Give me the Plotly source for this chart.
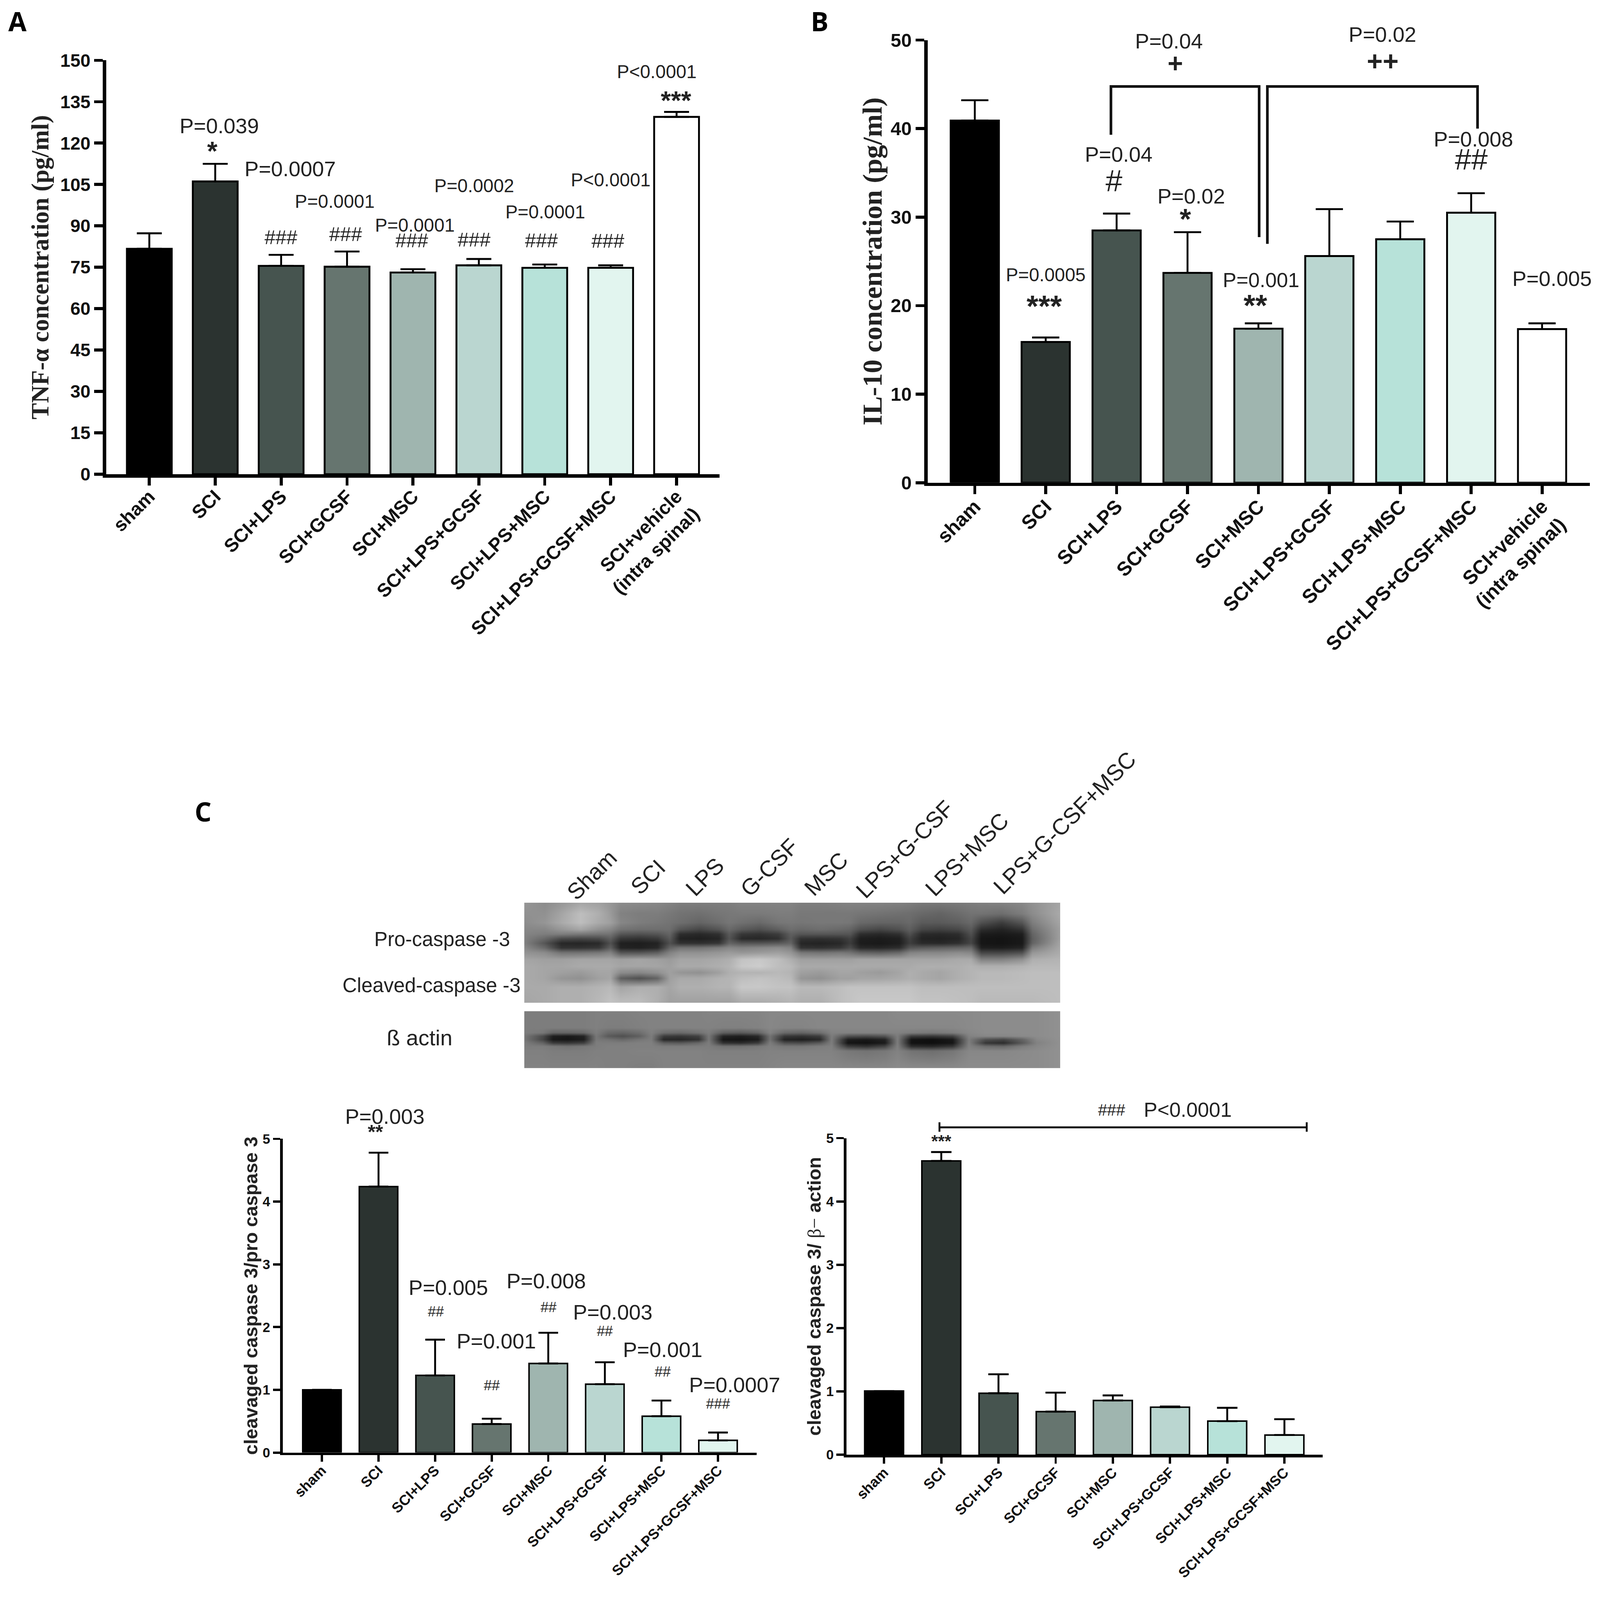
import plotly.graph_objects as go

W, H = 4233, 4191

# ---------- data ----------
groups_9 = ["sham", "SCI", "SCI+LPS", "SCI+GCSF", "SCI+MSC", "SCI+LPS+GCSF", "SCI+LPS+MSC",
            "SCI+LPS+GCSF+MSC", "SCI+vehicle<br>(intra spinal)"]
groups_8 = groups_9[:8]
bar_colors = ["#000000", "#2b3330", "#46544f", "#66756f", "#9fb5af", "#bad6d0", "#b7e2d9", "#e2f5ef", "#ffffff"]

tnf_values = [81.7, 106.1, 75.5, 75.2, 73.1, 75.7, 74.8, 74.8, 129.5]
tnf_errors = [5.6, 6.4, 4.0, 5.5, 1.2, 2.3, 1.2, 0.9, 1.8]
il10_values = [40.9, 15.9, 28.5, 23.7, 17.4, 25.6, 27.5, 30.5, 17.35]
il10_errors = [2.3, 0.5, 1.9, 4.6, 0.6, 5.3, 2.0, 2.2, 0.65]
ratio_pro_values = [1.0, 4.24, 1.23, 0.455, 1.42, 1.09, 0.58, 0.195]
ratio_pro_errors = [0.0, 0.54, 0.57, 0.085, 0.49, 0.35, 0.25, 0.125]
ratio_actin_values = [1.005, 4.64, 0.97, 0.68, 0.856, 0.75, 0.53, 0.31]
ratio_actin_errors = [0.0, 0.14, 0.30, 0.30, 0.08, 0.01, 0.21, 0.25]

# blot grey levels (0 black, 255 white)
blot1_x = [80, 130, 170, 217, 262, 290, 315, 360, 405, 435, 460, 508, 555, 580, 610, 655, 700, 730,
           755, 803, 850, 875, 900, 948, 995, 1020, 1050, 1095, 1140, 1170, 1195, 1245, 1295, 1320, 1388]
blot1_y = [723, 770, 810, 840, 860, 880, 900, 920, 940, 970, 1000, 1028, 1052, 1090, 1160]
blot1_z = [
    [150,140, 150,165,160, 150, 140,138,135, 130, 125,125,125, 125, 130,130,130, 130, 125,125,128, 130, 130,130,128, 125, 120,120,122, 125, 128,130,135, 145,165],
    [145,145, 165,190,175, 155, 130,125,125, 120, 115,112,118, 120, 122,122,125, 125, 120,120,120, 120, 118,115,112, 110, 105,100,108, 115, 115,110,125, 140,170],
    [140,150, 170,190,170, 160, 135,125,120, 115, 110,100,110, 118, 112,105,118, 120, 118,120,120, 118, 105,100,100, 105, 90,90,95, 105, 80,60,85, 125,165],
    [135,135, 150,165,145, 135, 115,110,110, 110, 85,70,85, 105, 90,80,95, 110, 105,110,105, 100, 80,70,80, 95, 70,65,72, 90, 45,35,50, 110,160],
    [132,125, 125,120,115, 115, 85,80,85, 100, 45,40,48, 90, 55,50,60, 95, 85,85,85, 85, 45,40,48, 80, 42,40,45, 80, 28,25,30, 100,160],
    [130,105, 75,70,75, 95, 55,50,58, 90, 35,32,38, 85, 42,40,48, 90, 50,48,52, 65, 30,28,32, 65, 35,33,38, 70, 22,20,25, 95,160],
    [130,85, 40,38,42, 80, 32,30,35, 80, 50,48,55, 100, 85,85,90, 100, 38,35,40, 60, 28,25,30, 62, 42,40,48, 70, 22,20,25, 100,165],
    [138,105, 50,50,55, 95, 35,32,40, 100, 115,115,125, 135, 130,135,140, 130, 50,48,55, 75, 40,38,45, 85, 90,95,100, 105, 30,28,35, 125,168],
    [148,140, 115,115,120, 130, 85,85,95, 130, 145,145,150, 155, 150,155,160, 150, 120,115,120, 115, 100,95,105, 130, 135,135,140, 135, 70,70,80, 150,172],
    [165,160, 160,165,165, 165, 160,165,160, 155, 165,165,170, 175, 195,200,190, 175, 160,160,160, 160, 165,165,165, 165, 165,165,170, 170, 130,130,145, 175,180],
    [170,165, 165,170,170, 170, 165,165,165, 160, 170,170,175, 180, 200,205,190, 185, 170,170,170, 170, 170,170,170, 170, 175,175,175, 180, 175,175,180, 185,185],
    [170,165, 160,155,165, 165, 140,135,145, 160, 150,145,160, 175, 180,180,185, 180, 160,155,165, 165, 160,155,165, 175, 170,165,175, 180, 185,185,188, 190,190],
    [170,165, 150,145,160, 165, 95,80,100, 160, 170,170,178, 180, 190,195,190, 185, 150,145,160, 160, 165,165,170, 175, 170,165,175, 180, 185,185,188, 190,190],
    [170,170, 175,175,180, 185, 165,175,175, 165, 175,175,180, 180, 200,200,195, 195, 185,185,190, 195, 195,195,195, 195, 190,190,190, 190, 190,190,190, 190,190],
    [165,170, 175,175,185, 195, 190,190,175, 160, 160,160,160, 160, 170,170,175, 180, 175,175,190, 195, 200,200,200, 200, 195,195,192, 190, 185,185,185, 185,190],
]
blot2_x = [80, 125, 150, 185, 225, 255, 285, 320, 360, 390, 420, 462, 505, 530, 565, 608, 650, 680,
           715, 757, 800, 830, 870, 915, 960, 990, 1025, 1075, 1125, 1165, 1205, 1250, 1295, 1330, 1388]
blot2_y = [1197, 1270, 1290, 1305, 1320, 1335, 1350, 1370, 1445]
blot2_z = [
    [125,125, 125,125,125, 128, 128,128,130, 130, 130,130,130, 132, 132,132,132, 135, 135,135,135, 135, 135,135,135, 138, 138,138,138, 138, 140,140,140, 140,145],
    [125,125, 125,125,125, 128, 125,125,128, 130, 130,130,130, 130, 128,128,130, 135, 132,132,135, 135, 135,135,135, 135, 135,135,135, 138, 140,140,140, 140,145],
    [125,120, 100,100,105, 125, 105,100,110, 128, 110,105,115, 125, 95,90,100, 130, 105,100,110, 130, 130,130,130, 130, 125,120,125, 135, 140,140,140, 140,145],
    [120,75, 30,25,35, 120, 90,80,95, 125, 60,55,65, 120, 35,30,40, 115, 55,50,60, 125, 80,75,85, 125, 60,55,65, 130, 135,135,138, 140,145],
    [120,70, 25,22,30, 120, 115,105,118, 125, 40,38,50, 120, 22,20,28, 115, 35,30,40, 125, 30,25,35, 125, 20,15,25, 125, 80,70,100, 135,145],
    [125,100, 60,55,65, 125, 125,125,128, 128, 95,90,105, 125, 50,45,60, 125, 80,75,90, 125, 22,18,28, 125, 18,15,22, 128, 55,45,90, 130,145],
    [125,125, 120,115,120, 125, 128,128,128, 128, 125,125,125, 125, 115,115,120, 128, 120,120,125, 128, 60,50,70, 128, 45,40,55, 130, 110,105,125, 135,145],
    [128,128, 125,125,125, 128, 128,128,130, 130, 130,130,130, 128, 128,128,128, 130, 130,130,130, 130, 120,115,120, 130, 115,110,118, 135, 135,135,138, 140,145],
    [130,130, 130,130,130, 130, 128,128,125, 125, 130,130,130, 130, 130,130,130, 132, 135,135,135, 135, 135,135,135, 138, 138,138,138, 140, 140,140,140, 140,145],
]

# ---------- helpers ----------
SANS = "Liberation Sans"
SERIF = "Liberation Serif"


def xdom(a, b):
    return [a / W, b / W]


def ydom(bottom, top):
    return [1 - bottom / H, 1 - top / H]


fig = go.Figure()
annotations, shapes = [], []
panel_y = {}


def add_panel(idx, cats, vals, errs, xr, xd, yd, ymax, dtick, cap, lw, axw, tlx, tly,
              tickfont, xtickfont, title, titlefont, standoff, xstand):
    sfx = "" if idx == 1 else str(idx)
    panel_y[sfx] = (yd, ymax)
    fig.add_trace(go.Bar(
        x=cats, y=vals, xaxis="x" + sfx, yaxis="y" + sfx, width=[0.68] * len(cats),
        marker=dict(color=bar_colors[:len(cats)], line=dict(color="#000000", width=lw)),
        error_y=dict(type="data", symmetric=False, array=errs, arrayminus=[0] * len(cats),
                     color="#000000", thickness=5, width=cap),
        showlegend=False, hoverinfo="skip"))
    common = dict(showline=True, linecolor="#000000", linewidth=axw, showgrid=False, zeroline=False,
                  ticks="outside", tickcolor="#000000", tickwidth=max(axw - 1, 4), automargin=False)
    layout_x = dict(common, type="category", domain=xd, range=xr, anchor="y" + sfx, ticklen=tlx, tickangle=-45,
                    ticklabelstandoff=xstand,
                    tickfont=dict(family=SANS, size=xtickfont, color="#111111", weight="bold"))
    layout_y = dict(common, domain=yd, range=[0, ymax], dtick=dtick, anchor="x" + sfx, ticklen=tly,
                    tickfont=dict(family=SANS, size=tickfont, color="#111111", weight="bold"),
                    title=dict(text=title, font=titlefont, standoff=standoff))
    fig.update_layout({"xaxis" + sfx: layout_x, "yaxis" + sfx: layout_y})


add_panel(1, groups_9, tnf_values, tnf_errors, [-0.654, 8.654], xdom(281, 1904), ydom(1254.5, 159.6), 150, 15,
          33, 5, 9, 21, 23, 48, 50, "<b>TNF-α concentration (pg/ml)</b>",
          dict(family=SERIF, size=65, color="#222222"), 13, -20)
add_panel(2, groups_9, il10_values, il10_errors, [-0.666, 8.673], xdom(2454, 4206), ydom(1277, 106), 50, 10,
          36, 5, 9, 21, 23, 50, 52, "<b>IL-10 concentration (pg/ml)</b>",
          dict(family=SERIF, size=73, color="#222222"), 3, -18)
add_panel(3, groups_8, ratio_pro_values, ratio_pro_errors, [-0.693, 7.684], xdom(748, 2002), ydom(3843, 3013), 5, 1,
          26, 4, 7, 17, 19, 36, 38, "<b>cleavaged caspase 3/pro caspase 3</b>",
          dict(family=SANS, size=50, color="#222222"), 0, -14)
add_panel(4, groups_8, ratio_actin_values, ratio_actin_errors, [-0.661, 7.667], xdom(2239, 3499), ydom(3848.5, 3011), 5, 1,
          27, 4, 7, 17, 19, 36, 38,
          "<b>cleavaged caspase 3/ </b><span style=\"font-family:Liberation Serif\">β−</span><b> action</b>",
          dict(family=SANS, size=50, color="#222222"), 0, -14)

# western blots
for n, xs, ys, zs, box_y in [(5, blot1_x, blot1_y, blot1_z, (2653, 2388)), (6, blot2_x, blot2_y, blot2_z, (2826, 2675))]:
    fig.add_trace(go.Heatmap(x=xs, y=ys, z=zs, xaxis=f"x{n}", yaxis=f"y{n}", zmin=0, zmax=255, zsmooth="best",
                             colorscale=[[0, "#000000"], [1, "#ffffff"]], showscale=False, hoverinfo="skip"))
    fig.update_layout({
        f"xaxis{n}": dict(domain=xdom(1387, 2805), range=[80, 1388], visible=False, anchor=f"y{n}"),
        f"yaxis{n}": dict(domain=ydom(*box_y), range=[ys[-1], ys[0]], visible=False, anchor=f"x{n}"),
    })


def paper_y(axis, v):
    (d0, d1), ymax = panel_y[axis]
    return d0 + (d1 - d0) * v / ymax


def label(text, axis, x, y, size, weight="normal", color="#222222"):
    # y goes through the panel's scale onto the page so notes above the axis stay visible
    if text[0] in "*+":
        weight = "bold"
    annotations.append(dict(text=text, xref="x" + axis, yref="paper", x=x, y=paper_y(axis, y), showarrow=False,
                            xanchor="center", yanchor="middle",
                            font=dict(family=SANS, size=size, color=color, weight=weight)))


def paper_label(text, px, py, size, angle=0, weight="normal", anchor="center", family=SANS, color="#222222"):
    annotations.append(dict(text=text, xref="paper", yref="paper", x=px / W, y=1 - py / H, showarrow=False,
                            xanchor=anchor, yanchor="middle", textangle=angle,
                            font=dict(family=family, size=size, color=color, weight=weight)))


def bracket(axis, pts, width):
    path = "M " + " L ".join(f"{x} {paper_y(axis, y)}" for x, y in pts)
    shapes.append(dict(type="path", path=path, xref="x" + axis, yref="paper",
                       line=dict(color="#111111", width=width)))


# panel A notes (category position, value)
for t, x, y, s in [("P=0.039", 1.06, 126.3, 56), ("P=0.0007", 2.135, 110.7, 56), ("P=0.0001", 2.81, 98.8, 49),
                   ("P=0.0001", 4.03, 90.2, 49), ("P=0.0002", 4.93, 104.6, 49), ("P=0.0001", 6.01, 95.0, 49),
                   ("P<0.0001", 7.0, 106.6, 49), ("P<0.0001", 7.70, 145.9, 49),
                   ("*", 0.96, 117.0, 70), ("***", 7.99, 135.5, 69),
                   ("###", 2.0, 85.8, 52), ("###", 2.98, 86.9, 52), ("###", 3.98, 84.7, 52),
                   ("###", 4.93, 85.0, 52), ("###", 5.95, 84.7, 52), ("###", 6.96, 84.6, 52)]:
    label(t, "", x, y, s)

# panel B notes
for t, x, y, s in [("P=0.04", 2.74, 49.9, 56), ("P=0.02", 5.75, 50.6, 56), ("P=0.04", 2.03, 37.1, 56),
                   ("P=0.02", 3.05, 32.4, 56), ("P=0.0005", 1.0, 23.5, 49), ("P=0.001", 4.04, 22.9, 54),
                   ("P=0.008", 7.03, 38.8, 56), ("P=0.005", 8.14, 23.07, 56),
                   ("+", 2.83, 47.4, 70), ("++", 5.75, 47.6, 72), ("#", 1.965, 34.1, 80), ("##", 7.0, 36.5, 78),
                   ("*", 2.97, 29.8, 77), ("***", 0.98, 19.9, 80), ("**", 3.96, 20.0, 80)]:
    label(t, "2", x, y, s)
bracket("2", [(1.92, 39.3), (1.92, 44.76), (4.01, 44.76), (4.01, 27.74)], 7)
bracket("2", [(4.126, 26.98), (4.126, 44.76), (7.09, 44.76), (7.09, 40.0)], 7)

# panel C left notes
for t, x, y, s in [("P=0.003", 1.11, 5.36, 56), ("P=0.005", 2.23, 2.63, 56), ("P=0.001", 3.08, 1.78, 56),
                   ("P=0.008", 3.96, 2.74, 56), ("P=0.003", 5.14, 2.24, 56), ("P=0.001", 6.02, 1.64, 56),
                   ("P=0.0007", 7.29, 1.08, 56),
                   ("**", 0.95, 5.11, 52), ("##", 2.01, 2.25, 38), ("##", 3.0, 1.07, 38), ("##", 4.0, 2.32, 38),
                   ("##", 5.0, 1.94, 38), ("##", 6.02, 1.29, 38), ("###", 7.0, 0.78, 38)]:
    label(t, "3", x, y, s)

# panel C right notes
for t, x, y, s in [("###", 3.98, 5.44, 43), ("P<0.0001", 5.31, 5.45, 54), ("***", 1.0, 4.95, 45)]:
    label(t, "4", x, y, s)
bracket("4", [(0.968, 5.17), (7.39, 5.17)], 5)
bracket("4", [(0.968, 5.25), (0.968, 5.10)], 5)
bracket("4", [(7.39, 5.25), (7.39, 5.10)], 5)

# panel letters
paper_label("A", 46, 56, 70, weight="bold", color="#000000", family="Open Sans")
paper_label("B", 2168, 56, 70, weight="bold", color="#000000", family="Open Sans")
paper_label("C", 537, 2146, 70, weight="bold", color="#000000", family="Open Sans")

# blot labels
paper_label("Pro-caspase -3", 1169, 2484, 53)
paper_label("Cleaved-caspase -3", 1141, 2606, 53)
paper_label("ß actin", 1110, 2745, 58)
for t, px, py in [("Sham", 1566, 2314), ("SCI", 1714, 2320), ("LPS", 1864, 2320), ("G-CSF", 2035, 2295),
                  ("MSC", 2185, 2312), ("LPS+G-CSF", 2393, 2247), ("LPS+MSC", 2558, 2260),
                  ("LPS+G-CSF+MSC", 2816, 2177)]:
    paper_label(t, px, py, 60, angle=-45)

fig.update_layout(width=W, height=H, margin=dict(l=0, r=0, t=0, b=0, pad=0), paper_bgcolor="#ffffff",
                  plot_bgcolor="rgba(0,0,0,0)", showlegend=False, annotations=annotations, shapes=shapes,
                  font=dict(family=SANS))

# fit the page to the window that actually opens
fit = ("document.body.style.margin='0';document.documentElement.style.overflow='hidden';"
       "var gd=document.getElementsByClassName('plotly-graph-div')[0];"
       "var s=Math.min(1,window.innerWidth/%d);gd.style.transformOrigin='0 0';gd.style.transform='scale('+s+')';" % W)
fig.write_html("out.html", post_script=fit, config=dict(displayModeBar=False))
